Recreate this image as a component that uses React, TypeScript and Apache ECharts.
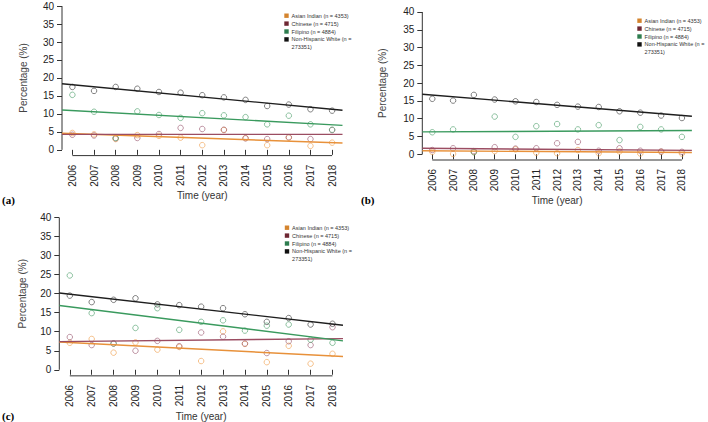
import React, { useEffect, useRef } from "react";
import * as echarts from "echarts";

// ---------- data ----------
const years = [2006, 2007, 2008, 2009, 2010, 2011, 2012, 2013, 2014, 2015, 2016, 2017, 2018];
const yTicks = [0, 5, 10, 15, 20, 25, 30, 35, 40];
const xLimits = [2005.52, 2018.48];
const yLimits = [-1.6, 41.6];

const groups = ["Asian Indian", "Chinese", "Filipino", "Non-Hispanic White"];
const legendLabels = [
  "Asian Indian (n = 4353)",
  "Chinese (n = 4715)",
  "Filipino (n = 4884)",
  "Non-Hispanic White (n =\n273351)",
];
const panelLetters = ["(a)", "(b)", "(c)"];

// panel (a)
const aAsianIndian = [4.7, 4.3, 3.0, 4.1, 3.9, 3.4, 1.3, 5.5, 3.3, 1.3, 3.4, 1.1, 2.0];
const aChinese = [4.2, 4.0, 3.2, 3.3, 4.4, 6.1, 5.8, 5.6, 3.2, 3.0, 3.5, 3.0, 5.5];
const aFilipino = [15.3, 10.6, 3.3, 10.7, 9.7, 8.9, 10.2, 9.6, 9.1, 7.1, 9.5, 7.1, 5.6];
const aWhite = [17.5, 16.4, 17.5, 17.0, 16.1, 15.9, 15.2, 14.6, 13.9, 12.2, 12.6, 11.3, 10.9];
const aTrendAsianIndian = [4.6, 1.9];
const aTrendChinese = [4.3, 4.3];
const aTrendFilipino = [11.1, 6.8];
const aTrendWhite = [18.4, 11.0];

// panel (b)
const bAsianIndian = [0.7, 0.1, 0.6, 0.9, 1.4, 0.45, 0.3, 1.2, 0.3, 0.8, 0.2, 0.7, 0.2];
const bChinese = [1.2, 1.7, 0.9, 2.0, 1.6, 1.7, 3.1, 3.5, 1.0, 1.7, 1.0, 0.8, 0.7];
const bFilipino = [6.2, 7.0, 0.6, 10.6, 4.9, 7.9, 8.5, 7.0, 8.2, 4.0, 7.7, 7.0, 4.9];
const bWhite = [15.6, 15.1, 16.7, 15.4, 14.9, 14.7, 13.9, 13.4, 13.3, 12.1, 11.7, 10.9, 10.2];
const bTrendAsianIndian = [1.0, 0.5];
const bTrendChinese = [1.7, 1.1];
const bTrendFilipino = [6.3, 6.7];
const bTrendWhite = [16.9, 10.7];

// panel (c)
const cAsianIndian = [7.1, 8.1, 4.5, 7.2, 5.3, 6.0, 2.3, 10.1, 6.8, 2.0, 6.3, 1.6, 4.2];
const cChinese = [8.6, 6.5, 6.9, 5.0, 7.6, 6.2, 9.8, 8.7, 6.9, 4.4, 7.5, 6.5, 11.2];
const cFilipino = [24.8, 14.9, 6.9, 11.0, 16.2, 10.5, 12.6, 13.0, 10.3, 11.6, 11.9, 7.9, 7.1];
const cWhite = [19.5, 17.8, 18.4, 18.8, 17.2, 17.0, 16.6, 16.2, 14.6, 12.6, 13.6, 11.9, 12.1];
const cTrendAsianIndian = [7.3, 3.5];
const cTrendChinese = [7.4, 8.2];
const cTrendFilipino = [16.9, 7.6];
const cTrendWhite = [20.2, 11.7];

// ---------- styles ----------
const pointColors = ["rgba(240,160,80,0.9)", "rgba(150,80,105,0.85)", "rgba(80,160,110,0.9)", "rgba(50,50,50,0.85)"];
const lineColors = ["#e8913a", "#9b4d62", "#3a9a5e", "#1e1e1e"];
const legendColors = ["#d4842e", "#6e2733", "#2e7d4f", "#111111"];
const FONT = "Liberation Sans, Arial, Helvetica, sans-serif";

const panels = [
  {
    grid: { left: 62, top: 0.3, width: 280.5, height: 155.3 },
    values: [aAsianIndian, aChinese, aFilipino, aWhite],
    trends: [aTrendAsianIndian, aTrendChinese, aTrendFilipino, aTrendWhite],
    yNameGap: 34,
    xNameGap: 33,
    legend: { x: 284.3, y: 15.7 },
    letter: { x: 2, y: 200 },
  },
  {
    grid: { left: 422.3, top: 6.3, width: 269.6, height: 153.7 },
    values: [bAsianIndian, bChinese, bFilipino, bWhite],
    trends: [bTrendAsianIndian, bTrendChinese, bTrendFilipino, bTrendWhite],
    yNameGap: 35,
    xNameGap: 30,
    legend: { x: 637.3, y: 20.7 },
    letter: { x: 361, y: 200 },
  },
  {
    grid: { left: 59.3, top: 211.6, width: 283.7, height: 164.8 },
    values: [cAsianIndian, cChinese, cFilipino, cWhite],
    trends: [cTrendAsianIndian, cTrendChinese, cTrendFilipino, cTrendWhite],
    yNameGap: 32,
    xNameGap: 29,
    legend: { x: 284.8, y: 227.7 },
    letter: { x: 2, y: 416 },
  },
];

function buildOption() {
  const grids: any[] = [];
  const xAxes: any[] = [];
  const yAxes: any[] = [];
  const series: any[] = [];
  const graphics: any[] = [];

  panels.forEach((p, idx) => {
    grids.push({ ...p.grid, containLabel: false });
    xAxes.push({
      type: "value",
      gridIndex: idx,
      min: xLimits[0],
      max: xLimits[1],
      name: "Time (year)",
      nameLocation: "middle",
      nameGap: p.xNameGap,
      nameTextStyle: { fontFamily: FONT, fontSize: 10, color: "#333" },
      axisLine: { show: false },
      splitLine: { show: false },
      axisTick: {
        show: true,
        customValues: years,
        length: 5,
        lineStyle: { color: "#333", width: 1 },
      },
      axisLabel: {
        show: true,
        customValues: years,
        rotate: 90,
        margin: 9,
        fontFamily: FONT,
        fontSize: 10,
        color: "#222",
        formatter: (v: number) => String(Math.round(v)),
      },
    });
    yAxes.push({
      type: "value",
      gridIndex: idx,
      min: yLimits[0],
      max: yLimits[1],
      name: "Percentage (%)",
      nameLocation: "middle",
      nameGap: p.yNameGap,
      nameTextStyle: { fontFamily: FONT, fontSize: 10, color: "#444" },
      axisLine: { show: false },
      splitLine: { show: false },
      axisTick: {
        show: true,
        customValues: yTicks,
        length: 5,
        lineStyle: { color: "#333", width: 1 },
      },
      axisLabel: {
        show: true,
        customValues: yTicks,
        margin: 8,
        fontFamily: FONT,
        fontSize: 10,
        color: "#222",
        formatter: (v: number) => String(Math.round(v)),
      },
    });

    // axis lines (R style: only spanning the tick range)
    series.push({
      type: "line",
      xAxisIndex: idx,
      yAxisIndex: idx,
      data: [
        [years[0], yLimits[0]],
        [years[years.length - 1], yLimits[0]],
      ],
      symbol: "none",
      clip: false,
      silent: true,
      lineStyle: { color: "#333", width: 1 },
      z: 1,
    });
    series.push({
      type: "line",
      xAxisIndex: idx,
      yAxisIndex: idx,
      data: [
        [xLimits[0], yTicks[0]],
        [xLimits[0], yTicks[yTicks.length - 1]],
      ],
      symbol: "none",
      clip: false,
      silent: true,
      lineStyle: { color: "#333", width: 1 },
      z: 1,
    });

    groups.forEach((g, i) => {
      series.push({
        type: "scatter",
        name: g,
        xAxisIndex: idx,
        yAxisIndex: idx,
        data: years.map((yr, j) => [yr, p.values[i][j]]),
        symbol: "circle",
        symbolSize: 5.5,
        itemStyle: { color: "rgba(0,0,0,0)", borderColor: pointColors[i], borderWidth: 0.9 },
        z: 2,
      });
    });
    groups.forEach((g, i) => {
      series.push({
        type: "line",
        name: g,
        xAxisIndex: idx,
        yAxisIndex: idx,
        data: [
          [xLimits[0], p.trends[i][0]],
          [xLimits[1], p.trends[i][1]],
        ],
        symbol: "none",
        clip: false,
        lineStyle: { color: lineColors[i], width: 1.4 },
        z: 3,
      });
    });

    // legend
    const rowGap = 7.9;
    legendLabels.forEach((lab, i) => {
      const cy = p.legend.y + i * rowGap;
      graphics.push({
        type: "rect",
        shape: { x: p.legend.x, y: cy - 2.2, width: 4.4, height: 4.4 },
        style: { fill: legendColors[i] },
        silent: true,
      });
      graphics.push({
        type: "text",
        x: p.legend.x + 7.3,
        y: cy - 3.6,
        style: {
          text: lab,
          fontFamily: FONT,
          fontSize: 5.5,
          lineHeight: 7.3,
          fill: "#333",
          verticalAlign: "top",
          align: "left",
        },
        silent: true,
      });
    });

    graphics.push({
      type: "text",
      x: p.letter.x,
      y: p.letter.y,
      style: {
        text: panelLetters[idx],
        fontFamily: "Liberation Serif, Times New Roman, serif",
        fontWeight: "bold",
        fontSize: 11,
        fill: "#000",
        verticalAlign: "middle",
        align: "left",
      },
      silent: true,
    });
  });

  return {
    animation: false,
    backgroundColor: "#ffffff",
    grid: grids,
    xAxis: xAxes,
    yAxis: yAxes,
    series,
    graphic: graphics,
  };
}

export default function App() {
  const ref = useRef<HTMLDivElement>(null);
  useEffect(() => {
    if (!ref.current) return;
    const chart = echarts.init(ref.current, undefined, { renderer: "svg" });
    chart.setOption(buildOption() as any);
    return () => chart.dispose();
  }, []);
  return (
    <div
      ref={ref}
      style={{ position: "absolute", left: 0, top: 0, width: 708, height: 422, background: "#fff" }}
    />
  );
}
